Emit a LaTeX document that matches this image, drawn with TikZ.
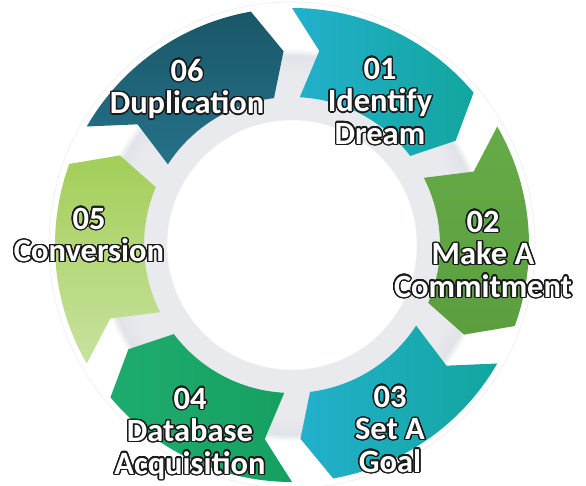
\documentclass[tikz,border=0pt]{standalone}
\usepackage{fontspec}
\setmainfont{Carlito}
\usepackage{contour}
\contourlength{1.4pt}
\contournumber{24}
\definecolor{ringgrey}{HTML}{E8EAEE}
\definecolor{ringdark}{HTML}{E0E3E7}
\definecolor{cyanA}{HTML}{22B0CC}
\definecolor{tealA}{HTML}{12A69E}
\definecolor{greenA}{HTML}{66AB47}
\definecolor{greenB}{HTML}{5A9E3F}
\definecolor{emerA}{HTML}{1EAC6E}
\definecolor{emerB}{HTML}{15A060}
\definecolor{limeA}{HTML}{A3CE58}
\definecolor{limeB}{HTML}{C8E29E}
\definecolor{navyA}{HTML}{1A5767}
\definecolor{navyB}{HTML}{25728A}
\definecolor{outl}{HTML}{1A1A1A}
\pgfdeclareradialshading{ringshade}{\pgfpoint{0bp}{0bp}}{%
color(0bp)=(ringgrey); color(20.5bp)=(ringgrey); color(22.5bp)=(ringdark);
color(23.4bp)=(white); color(25bp)=(white); color(50bp)=(white)}
\newcommand\cyclearrow[2]{%
  \pgfmathsetmacro\aT{#1}%
  \pgfmathsetmacro\aN{#1-8}%
  \pgfmathsetmacro\aTi{#1-3}%
  \pgfmathsetmacro\aHi{#1-53}%
  \pgfmathsetmacro\aP{#1-57.5}%
  \pgfmathsetmacro\aH{#1-50}%
  \path[#2] (\aT:237pt) -- (\aN:196pt) -- (\aTi:148pt)
    arc[start angle=\aTi, end angle=\aHi, radius=148pt]
    -- (\aP:194pt) -- (\aH:237pt)
    arc[start angle=\aH, end angle=\aT, radius=237pt] -- cycle;}
\tikzset{
  lbl/.style={text=white, inner sep=0pt, anchor=base,
    font=\fontsize{32.5}{32.5}\selectfont\bfseries},
}
\newcommand\ctext[1]{\contour{outl}{#1}}
\begin{document}
\begin{tikzpicture}[x=1pt,y=1pt]
\useasboundingbox (0,0) rectangle (586,-485);
\fill[white] (0,0) rectangle (586,-485);
\coordinate (C) at (292,-245);
\begin{scope}[shift={(C)}]
  \draw[black!7, line width=0.6pt] (0,0) circle[radius=243pt];
  \shade[shading=ringshade] (0,0) circle[radius=210pt];
  \cyclearrow{90}{left color=cyanA, right color=tealA}
  \cyclearrow{30}{top color=greenA, bottom color=greenB}
  \cyclearrow{-30}{left color=cyanA, right color=tealA}
  \cyclearrow{-90}{left color=emerA, right color=emerB}
  \cyclearrow{-150}{top color=limeA, bottom color=limeB}
  \cyclearrow{150}{top color=navyA, bottom color=navyB}
  \fill[white] (0,0) circle[radius=125pt];
  \draw[black!6, line width=0.5pt] (0,0) circle[radius=125pt];
\end{scope}
\node[lbl] (t1) at (380,-79) {\begin{tabular}[t]{@{}c@{}}\ctext{01}\\\ctext{Identify}\\\ctext{Dream}\end{tabular}};
\node[lbl] (t2) at (483,-232) {\begin{tabular}[t]{@{}c@{}}\ctext{02}\\\ctext{Make A}\\\ctext{Commitment}\end{tabular}};
\node[lbl] (t3) at (390,-407) {\begin{tabular}[t]{@{}c@{}}\ctext{03}\\\ctext{Set A}\\\ctext{Goal}\end{tabular}};
\node[lbl] (t4) at (190,-409) {\begin{tabular}[t]{@{}c@{}}\ctext{04}\\\ctext{Database}\\\ctext{Acquisition}\end{tabular}};
\node[lbl] (t5) at (89,-229) {\begin{tabular}[t]{@{}c@{}}\ctext{05}\\\ctext{Conversion}\end{tabular}};
\node[lbl] (t6) at (187,-81) {\begin{tabular}[t]{@{}c@{}}\ctext{06}\\\ctext{Duplication}\end{tabular}};
\end{tikzpicture}
\end{document}
